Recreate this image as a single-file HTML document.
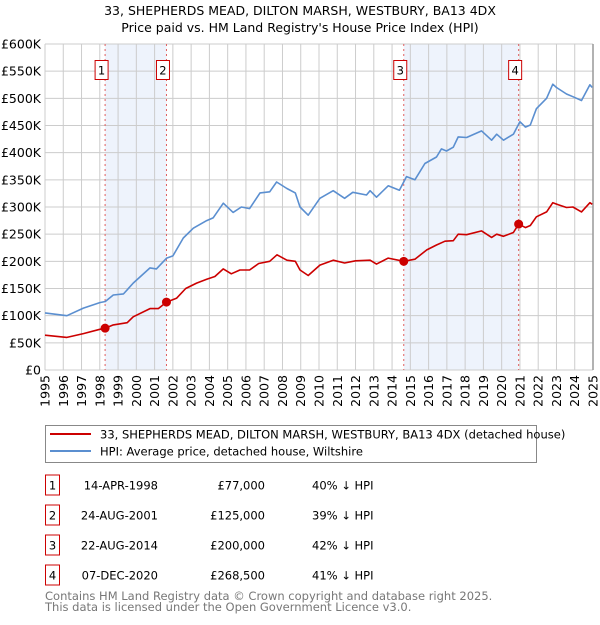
<!DOCTYPE html>
<html><head><meta charset="utf-8"><style>
body{margin:0;background:#fff;font-family:"Liberation Sans","DejaVu Sans",sans-serif;}
svg text{font-family:"DejaVu Sans","Liberation Sans",sans-serif;}
</style></head><body>
<svg id="chart" width="600" height="620" viewBox="0 0 600 620" xmlns="http://www.w3.org/2000/svg">
<text x="300" y="15" text-anchor="middle" font-size="12.5" fill="#000">33, SHEPHERDS MEAD, DILTON MARSH, WESTBURY, BA13 4DX</text>
<text x="300" y="32" text-anchor="middle" font-size="12.5" fill="#000">Price paid vs. HM Land Registry's House Price Index (HPI)</text>
<g id="plot"></g>
<g>
<rect x="45.5" y="425.5" width="491" height="37" fill="#fff" stroke="#888"/>
<line x1="50" y1="434" x2="91" y2="434" stroke="#cc0000" stroke-width="2"/>
<text x="100" y="438.5" font-size="11.5">33, SHEPHERDS MEAD, DILTON MARSH, WESTBURY, BA13 4DX (detached house)</text>
<line x1="50" y1="451" x2="91" y2="451" stroke="#5b8fd0" stroke-width="2"/>
<text x="100" y="455.5" font-size="11.5">HPI: Average price, detached house, Wiltshire</text>
</g>
<g id="table"></g>
<text x="45" y="600" font-size="11.5" fill="#777">Contains HM Land Registry data © Crown copyright and database right 2025.</text>
<text x="45" y="611" font-size="11.5" fill="#777">This data is licensed under the Open Government Licence v3.0.</text>
</svg>
<script>
const hpiYears=[1995.0,1996.2,1997.1,1998.0,1998.3,1998.74,1999.3,1999.83,2000.75,2001.1,2001.66,2002.0,2002.57,2003.12,2003.85,2004.2,2004.76,2005.3,2005.75,2006.2,2006.77,2007.3,2007.68,2008.24,2008.7,2008.96,2009.41,2010.05,2010.78,2011.4,2011.85,2012.6,2012.8,2013.15,2013.79,2014.4,2014.79,2015.25,2015.8,2016.43,2016.7,2016.98,2017.35,2017.62,2018.08,2018.9,2019.45,2019.73,2020.1,2020.64,2021.0,2021.3,2021.57,2021.9,2022.46,2022.8,2023.0,2023.55,2023.9,2024.37,2024.83,2024.96];
const hpiValues=[105,100,114,124,126,138,140,160,188,186,206,210,243,261,275,280,307,290,300,297,326,328,346,334,326,300,285,316,330,316,327,322,330,318,339,331,356,350,380,392,407,403,410,429,428,440,423,434,423,434,457,447,451,481,500,526,520,508,503,496,525,520];
const paidYears=[1995.0,1996.2,1997.1,1998.0,1998.29,1998.74,1999.5,1999.83,2000.75,2001.2,2001.65,2002.2,2002.7,2003.3,2003.85,2004.3,2004.76,2005.2,2005.67,2006.2,2006.7,2007.3,2007.7,2008.24,2008.7,2008.96,2009.41,2010.05,2010.78,2011.4,2012.0,2012.8,2013.15,2013.79,2014.64,2015.25,2015.9,2016.43,2016.9,2017.35,2017.62,2018.08,2018.9,2019.45,2019.73,2020.1,2020.64,2020.93,2021.3,2021.57,2021.9,2022.46,2022.8,2023.1,2023.55,2023.9,2024.37,2024.83,2024.96];
const paidValues=[64,60,67,75,77,83,87,98,113,113,125,132,150,160,167,172,186,177,184,184,196,200,212,202,200,184,174,193,202,197,201,202,195,206,200,204,221,230,237,238,250,249,256,244,250,246,253,268.5,262,266,282,291,308,304,299,300,291,308,305];
const saleLabels=["1","2","3","4"];
const saleYears=[1998.29,2001.65,2014.64,2020.93];
const saleDates=["14-APR-1998","24-AUG-2001","22-AUG-2014","07-DEC-2020"];
const salePrices=[77,125,200,268.5];
const salePriceText=["£77,000","£125,000","£200,000","£268,500"];
const saleHpiText=["40% ↓ HPI","39% ↓ HPI","42% ↓ HPI","41% ↓ HPI"];
const yTicks=[0,50,100,150,200,250,300,350,400,450,500,550,600];
const yTickLabels=["£0","£50K","£100K","£150K","£200K","£250K","£300K","£350K","£400K","£450K","£500K","£550K","£600K"];
const xYears=[1995,1996,1997,1998,1999,2000,2001,2002,2003,2004,2005,2006,2007,2008,2009,2010,2011,2012,2013,2014,2015,2016,2017,2018,2019,2020,2021,2022,2023,2024,2025];

const X0=45,X1=593,Y0=370,Y1=44;
const xs=y=>X0+(y-1995)/30*(X1-X0);
const ys=v=>Y0-v/600*(Y0-Y1);
const NS="http://www.w3.org/2000/svg";
const plot=document.getElementById('plot');
function mk(tag,attrs,parent){const e=document.createElementNS(NS,tag);for(const k in attrs)e.setAttribute(k,attrs[k]);(parent||plot).appendChild(e);return e;}

// shaded spans
for(let i=0;i<saleYears.length;i+=2){
  const r=mk('rect',{x:xs(saleYears[i]),y:Y1,width:xs(saleYears[i+1])-xs(saleYears[i]),height:Y0-Y1,fill:'#eef3fc'});
  
  
}
// grid
xYears.forEach(y=>{
  const l=mk('line',{x1:xs(y),x2:xs(y),y1:Y1,y2:Y0,stroke:'#cccccc','stroke-width':1});
  
  
  const t=mk('text',{x:0,y:0,'font-size':12.5,'text-anchor':'end',transform:`translate(${xs(y)+4.5},${Y0+5}) rotate(-90)`});
  t.textContent=y;
  
  
});
yTicks.forEach((v,i)=>{
  const l=mk('line',{x1:X0,x2:X1,y1:ys(v),y2:ys(v),stroke:'#cccccc','stroke-width':1});
  
  
  const t=mk('text',{x:41,y:ys(v)+4.5,'font-size':12.5,'text-anchor':'end'});
  t.textContent=yTickLabels[i];
  
  
});
const edge=mk('line',{x1:X1,x2:X1,y1:Y1,y2:Y0,stroke:'#999','stroke-width':1.5});


// event lines
saleYears.forEach((y,i)=>{
  const l=mk('line',{x1:xs(y),x2:xs(y),y1:Y1,y2:Y0,stroke:'#e06060','stroke-width':1,'stroke-dasharray':'2,3'});
  
  
  const b=mk('rect',{x:xs(y)-10,y:60.5,width:13,height:19,fill:'#fff',stroke:'#cc0000','stroke-width':1});
  
  
  const t=mk('text',{x:xs(y)-3.5,y:74.5,'font-size':11.5,'text-anchor':'middle'});
  t.textContent=saleLabels[i];
  
  
});
function line(xa,va,color,name){
  const d=xa.map((y,i)=>(i?'L':'M')+xs(y).toFixed(1)+','+ys(va[i]).toFixed(1)).join('');
  const p=mk('path',{d:d,fill:'none',stroke:color,'stroke-width':1.6,'stroke-linejoin':'round'});
  
  
}
line(hpiYears,hpiValues,'#5b8fd0','hpi-line');
line(paidYears,paidValues,'#cc0000','price-paid-line');
saleYears.forEach((y,i)=>{
  const c=mk('circle',{cx:xs(y),cy:ys(salePrices[i]),r:4.5,fill:'#cc0000'});
  
  
});
// table
const tb=document.getElementById('table');
saleLabels.forEach((s,i)=>{
  const cy=485+i*30;
  const b=mk('rect',{x:45.5,y:cy-10,width:14,height:20,fill:'#fff',stroke:'#cc0000'},tb);
  
  
  const cells=[[52.5,'middle',s,'row-number'],[158,'end',saleDates[i],'row-date'],[265,'end',salePriceText[i],'row-price'],[312,'start',saleHpiText[i],'row-hpi']];
  cells.forEach(c=>{
    const t=mk('text',{x:c[0],y:cy+4.5,'font-size':11.5,'text-anchor':c[1]},tb);
    t.textContent=c[2];
    
    
  });
});
</script>
</body></html>
